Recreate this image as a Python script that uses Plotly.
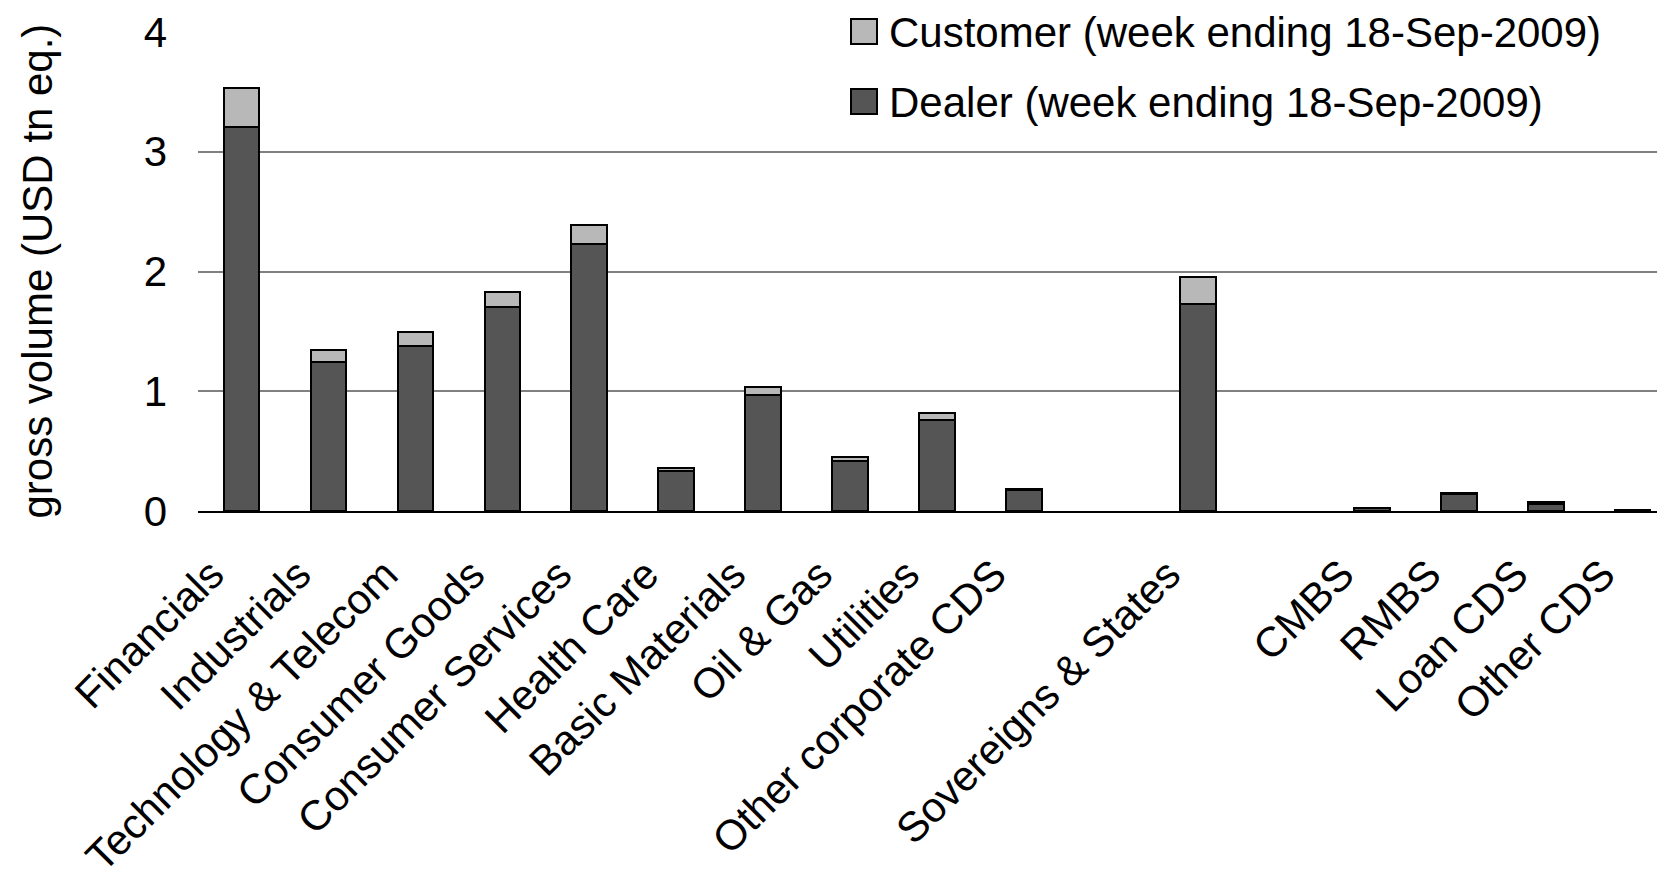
import plotly.graph_objects as go

categories = ["Financials", "Industrials", "Technology & Telecom", "Consumer Goods",
              "Consumer Services", "Health Care", "Basic Materials", "Oil & Gas",
              "Utilities", "Other corporate CDS", " ", "Sovereigns & States", "  ",
              "CMBS", "RMBS", "Loan CDS", "Other CDS"]
dealer = [3.21, 1.245, 1.38, 1.70, 2.23, 0.335, 0.965, 0.415, 0.76, 0.175,
          None, 1.73, None, 0.022, 0.14, 0.062, 0.008]
customer = [0.325, 0.10, 0.115, 0.133, 0.16, 0.02, 0.07, 0.037, 0.055, 0.012,
            None, 0.225, None, 0.006, 0.01, 0.012, 0.004]
series_names = ["Customer (week ending 18-Sep-2009)", "Dealer (week ending 18-Sep-2009)"]
y_ticks = [0, 1, 2, 3, 4]

W, H = 1657, 879
L, R, T, B = 198, 0, 32, 368
PW, PH = W - L - R, H - T - B
FONT = "Liberation Sans, Arial, sans-serif"
DARK, LIGHT = "#555555", "#b8b8b8"


def px_x(px):
    return (px - L) / PW


def px_y(py):
    return 1 - (py - T) / PH


fig = go.Figure()
fig.add_trace(go.Bar(x=categories, y=dealer, name=series_names[1],
                     marker=dict(color=DARK, line=dict(color="black", width=2)),
                     width=0.41, showlegend=False))
fig.add_trace(go.Bar(x=categories, y=customer, name=series_names[0],
                     marker=dict(color=LIGHT, line=dict(color="black", width=2)),
                     width=0.41, showlegend=False))

shapes = [
    # legend background covering the top gridline
    dict(type="rect", xref="paper", yref="paper", layer="above",
         x0=px_x(777), x1=px_x(W), y0=px_y(132), y1=px_y(0),
         fillcolor="white", line=dict(width=0)),
]
annotations = []
legend_rows = [(series_names[0], LIGHT, 19, 44), (series_names[1], DARK, 89, 114)]
for name, col, y0, y1 in legend_rows:
    shapes.append(dict(type="rect", xref="paper", yref="paper", layer="above",
                       x0=px_x(851), x1=px_x(877), y0=px_y(y1), y1=px_y(y0),
                       fillcolor=col, line=dict(color="black", width=2)))
    annotations.append(dict(text=name, xref="paper", yref="paper",
                            x=px_x(887), y=px_y((y0 + y1) / 2 + 1),
                            xanchor="left", yanchor="middle", showarrow=False,
                            font=dict(size=42, color="black", family=FONT)))
annotations.append(dict(text="gross volume (USD tn eq.)", xref="paper", yref="paper",
                        x=px_x(37), y=0.5, textangle=-90, xanchor="center",
                        yanchor="middle", showarrow=False,
                        font=dict(size=42, color="black", family=FONT)))

fig.update_layout(
    width=W, height=H,
    margin=dict(l=L, r=R, t=T, b=B, autoexpand=False),
    barmode="stack",
    paper_bgcolor="white", plot_bgcolor="white",
    font=dict(family=FONT, size=42, color="black"),
    showlegend=False,
    shapes=shapes, annotations=annotations,
    xaxis=dict(type="category", range=[-0.5, 16.28], tickangle=-45,
               showline=True, linecolor="black", linewidth=2,
               showgrid=False, ticks="", automargin=False,
               ticklabelstandoff=20, ticklabelshift=-30,
               tickfont=dict(size=42, family=FONT, color="black")),
    yaxis=dict(range=[0, 4], tickvals=y_ticks, showgrid=True,
               gridcolor="#808080", gridwidth=1.5, zeroline=False,
               showline=False, ticks="", automargin=False,
               ticklabelstandoff=30,
               tickfont=dict(size=42, family=FONT, color="black")),
)

fig.write_html("out.html")
